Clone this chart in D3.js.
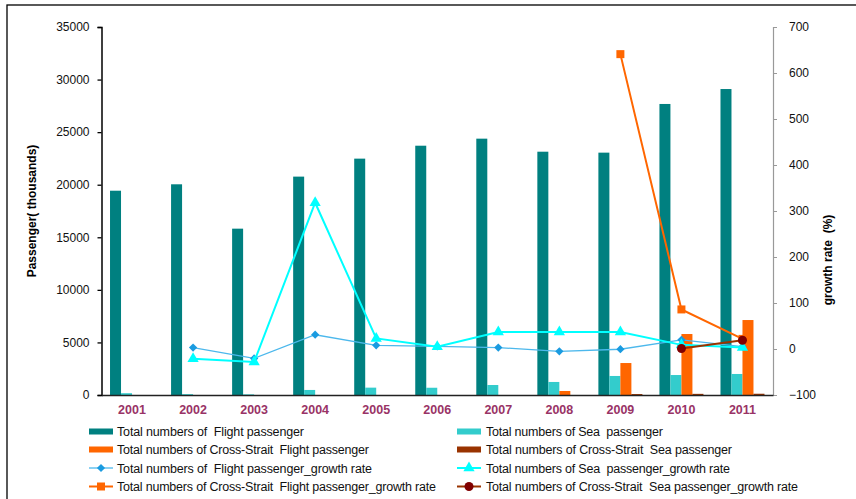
<!DOCTYPE html>
<html>
<head>
<meta charset="utf-8">
<script src="https://cdn.jsdelivr.net/npm/d3@7"></script>
<style>
  html, body { margin: 0; padding: 0; background: #fff; }
  svg { display: block; font-family: "Liberation Sans", Arial, sans-serif; }
</style>
</head>
<body>
<svg id="chart" width="856" height="499"></svg>
<script>
// Passenger volumes (thousands) and growth rates, 2001-2011
const years = ["2001","2002","2003","2004","2005","2006","2007","2008","2009","2010","2011"];

const flightPassengers   = [19430, 20040, 15820, 20770, 22480, 23710, 24380, 23140, 23050, 27680, 29100];
const seaPassengers      = [170, 80, 60, 480, 700, 690, 950, 1240, 1810, 1900, 2000];
const csFlightPassengers = [0, 0, 0, 0, 0, 0, 0, 380, 3040, 5800, 7130];
const csSeaPassengers    = [0, 0, 0, 0, 0, 0, 0, 0, 90, 110, 120];

const flightGrowth   = [null, 3, -20.5, 31, 8, 5.5, 3, -5, -0.5, 20, 5];
const seaGrowth      = [null, -21, -28, 318, 23, 5, 37, 37, 37, 9, 3];
const csFlightGrowth = [null, null, null, null, null, null, null, null, 641, 86, 22];
const csSeaGrowth    = [null, null, null, null, null, null, null, null, null, 1, 19];

const leftTicks  = [0, 5000, 10000, 15000, 20000, 25000, 30000, 35000];
const rightTicks = [-100, 0, 100, 200, 300, 400, 500, 600, 700];

const barSeries = [
  { name: "Total numbers of  Flight passenger", values: flightPassengers, color: "#008080" },
  { name: "Total numbers of Sea  passenger", values: seaPassengers, color: "#33cccc" },
  { name: "Total numbers of Cross-Strait  Flight passenger", values: csFlightPassengers, color: "#ff6600" },
  { name: "Total numbers of Cross-Strait  Sea passenger", values: csSeaPassengers, color: "#993300" }
];
const lineSeries = [
  { name: "Total numbers of  Flight passenger_growth rate", values: flightGrowth, line: "#4cb8ec", mark: "#1a9be0", shape: d3.symbolSquare, rot: 45, size: 34, width: 1.3 },
  { name: "Total numbers of Sea  passenger_growth rate", values: seaGrowth, line: "#00ffff", mark: "#00ffff", shape: d3.symbolTriangle, rot: 0, size: 55, width: 2 },
  { name: "Total numbers of Cross-Strait  Flight passenger_growth rate", values: csFlightGrowth, line: "#ff6600", mark: "#ff6600", shape: d3.symbolSquare, rot: 0, size: 64, width: 2 },
  { name: "Total numbers of Cross-Strait  Sea passenger_growth rate", values: csSeaGrowth, line: "#993300", mark: "#800000", shape: d3.symbolCircle, rot: 0, size: 64, width: 2 }
];

const svg = d3.select("#chart");
const plot = { left: 101.5, right: 773, top: 27, bottom: 395 };

// outer frame
svg.append("rect").attr("x", 7).attr("y", 5).attr("width", 900).attr("height", 600)
  .attr("fill", "none").attr("stroke", "#000").attr("stroke-width", 1.3);

const x = d3.scaleBand().domain(years).range([plot.left, plot.right]).paddingInner(0).paddingOuter(0);
const yL = d3.scaleLinear().domain([0, 35000]).range([plot.bottom, plot.top]);
const yR = d3.scaleLinear().domain([-100, 700]).range([plot.bottom, plot.top]);

const bw = x.bandwidth();
const barW = bw / 5.55;
const groupOffset = (bw - barW * 4) / 2;
const xs = d3.scaleBand().domain(d3.range(4)).range([groupOffset, groupOffset + barW * 4]).padding(0);

// columns
barSeries.forEach((s, i) => {
  svg.append("g").selectAll("rect").data(s.values.map((v, j) => ({ v, year: years[j] })))
    .join("rect")
    .attr("x", d => x(d.year) + xs(i))
    .attr("width", xs.bandwidth())
    .attr("y", d => yL(d.v))
    .attr("height", d => yL(0) - yL(d.v))
    .attr("fill", s.color)
    .attr("opacity", d => d.v > 0 ? 1 : 0);
});

// left axis
const axL = svg.append("g").attr("transform", `translate(${plot.left},0)`)
  .call(d3.axisLeft(yL).tickValues(leftTicks).tickSize(4).tickPadding(8).tickFormat(d3.format("d")));
axL.select(".domain").attr("stroke", "#000").attr("stroke-width", 1.5);
axL.selectAll(".tick line").attr("stroke", "#000").attr("stroke-width", 1.3);
axL.selectAll(".tick text").attr("font-size", 12).attr("fill", "#111").attr("font-family", "Liberation Sans, Arial, sans-serif");

// right axis
const axR = svg.append("g").attr("transform", `translate(${plot.right},0)`)
  .call(d3.axisRight(yR).tickValues(rightTicks).tickSize(4).tickPadding(12).tickFormat(d3.format("d")));
axR.select(".domain").attr("stroke", "#999").attr("stroke-width", 1.2);
axR.selectAll(".tick line").attr("stroke", "#999");
axR.selectAll(".tick text").attr("font-size", 12).attr("fill", "#111").attr("font-family", "Liberation Sans, Arial, sans-serif");

// category axis
const axB = svg.append("g").attr("transform", `translate(0,${plot.bottom})`)
  .call(d3.axisBottom(x).tickSize(0).tickPadding(10));
axB.select(".domain").attr("stroke", "#222").attr("stroke-width", 1.5);
axB.selectAll(".tick text").attr("font-size", 12.5).attr("font-weight", "bold")
  .attr("fill", "#993366").attr("font-family", "Liberation Sans, Arial, sans-serif");

// axis titles
svg.append("text").attr("transform", `translate(36,211) rotate(-90)`)
  .attr("text-anchor", "middle").attr("font-size", 12).attr("font-weight", "bold")
  .text("Passenger( thousands)");
svg.append("text").attr("transform", `translate(832,260) rotate(-90)`)
  .attr("text-anchor", "middle").attr("font-size", 12).attr("font-weight", "bold")
  .style("white-space", "pre").text("growth rate  (%)");

// growth-rate lines
const cx = d => x(d.year) + bw / 2;
lineSeries.forEach(s => {
  const pts = s.values.map((v, j) => ({ v, year: years[j] })).filter(d => d.v !== null);
  const line = d3.line().x(cx).y(d => yR(d.v));
  svg.append("path").datum(pts).attr("d", line)
    .attr("fill", "none").attr("stroke", s.line).attr("stroke-width", s.width);
  svg.append("g").selectAll("path").data(pts).join("path")
    .attr("transform", d => `translate(${cx(d)},${yR(d.v)}) rotate(${s.rot})`)
    .attr("d", d3.symbol().type(s.shape).size(s.size))
    .attr("fill", s.mark);
});

// legend: two columns, four rows
const legCols = [{ sx: 89, tx: 117 }, { sx: 457, tx: 486 }];
const rowY = [431.5, 449.5, 468, 486.5];
const leg = svg.append("g").attr("font-size", 12.5).attr("fill", "#111");
const legendItems = [
  { s: barSeries[0], col: 0, row: 0, kind: "bar", len: 187 },
  { s: barSeries[1], col: 1, row: 0, kind: "bar", len: 177 },
  { s: barSeries[2], col: 0, row: 1, kind: "bar", len: 252 },
  { s: barSeries[3], col: 1, row: 1, kind: "bar", len: 246 },
  { s: lineSeries[0], col: 0, row: 2, kind: "line", len: 255 },
  { s: lineSeries[1], col: 1, row: 2, kind: "line", len: 244 },
  { s: lineSeries[2], col: 0, row: 3, kind: "line", len: 319 },
  { s: lineSeries[3], col: 1, row: 3, kind: "line", len: 312 }
];
legendItems.forEach(it => {
  const c = legCols[it.col], y = rowY[it.row];
  if (it.kind === "bar") {
    leg.append("rect").attr("x", c.sx).attr("y", y - 3).attr("width", 24).attr("height", 6).attr("fill", it.s.color);
  } else {
    leg.append("line").attr("x1", c.sx).attr("x2", c.sx + 24).attr("y1", y).attr("y2", y)
      .attr("stroke", it.s.line).attr("stroke-width", it.s.width);
    leg.append("path").attr("transform", `translate(${c.sx + 12},${y}) rotate(${it.s.rot})`)
      .attr("d", d3.symbol().type(it.s.shape).size(it.s.size)).attr("fill", it.s.mark);
  }
  leg.append("text").attr("x", c.tx).attr("y", y + 4.5).style("white-space", "pre")
    .attr("textLength", it.len).attr("lengthAdjust", "spacing").text(it.s.name);
});
</script>
</body>
</html>
